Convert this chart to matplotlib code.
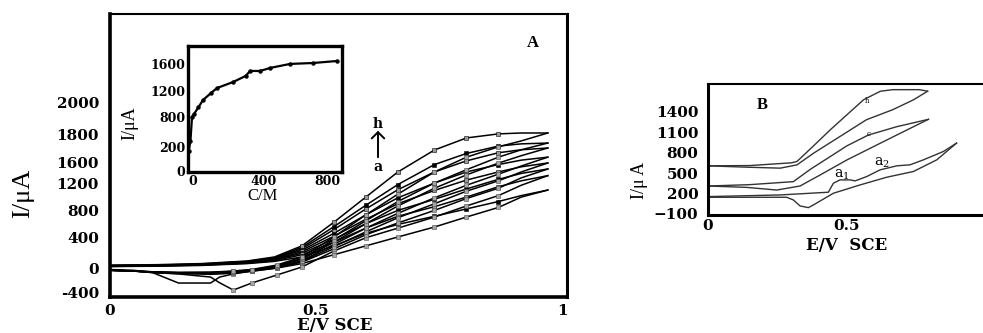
import numpy as np
import matplotlib
matplotlib.use("Agg")
import matplotlib.pyplot as plt

plt.rcParams["font.family"] = "DejaVu Serif"
plt.rcParams["mathtext.fontset"] = "dejavuserif"

W, H = 983, 333

## Panel A : cyclic voltammograms a..h  (E in V, I in uA)
E_fwd = [0, 0.1, 0.2, 0.3, 0.36, 0.42, 0.49, 0.56, 0.63, 0.71, 0.78, 0.85, 0.9, 0.958]
E_rev = [0.958, 0.9, 0.85, 0.78, 0.71, 0.63, 0.56, 0.49, 0.42, 0.365, 0.31, 0.27, 0.24, 0.22, 0.15, 0.09, 0.05, 0]

h_fwd = [40, 45, 60, 95, 150, 300, 620, 961, 1300, 1597, 1760, 1815, 1827, 1827]
g_fwd = [35, 40, 55, 90, 140, 280, 560, 850, 1130, 1400, 1550, 1650, 1680, 1691]
f_fwd = [30, 38, 50, 85, 130, 260, 520, 800, 1060, 1300, 1450, 1560, 1600, 1624]
e_fwd = [30, 35, 48, 80, 125, 240, 470, 720, 950, 1150, 1300, 1400, 1460, 1500]
d_fwd = [28, 32, 45, 75, 115, 220, 430, 660, 870, 1050, 1190, 1300, 1370, 1421]
c_fwd = [25, 30, 42, 70, 110, 200, 390, 600, 780, 930, 1070, 1200, 1280, 1340]
b_fwd = [22, 28, 40, 65, 100, 180, 350, 540, 700, 830, 960, 1100, 1180, 1250]
a_fwd = [20, 25, 35, 60, 90, 150, 300, 470, 590, 700, 800, 900, 980, 1055]

h_rev = [1827, 1720, 1640, 1500, 1300, 1000, 720, 420, 150, 40, -20, -40, -50, -55, -60, -50, -40, -30]
g_rev = [1691, 1600, 1500, 1330, 1150, 900, 640, 380, 130, 30, -25, -45, -55, -60, -60, -50, -40, -30]
f_rev = [1624, 1520, 1420, 1260, 1080, 840, 600, 350, 120, 25, -30, -50, -60, -65, -65, -55, -40, -30]
e_rev = [1500, 1380, 1270, 1120, 950, 740, 540, 320, 100, 15, -35, -55, -65, -70, -70, -55, -40, -30]
d_rev = [1421, 1300, 1180, 1040, 870, 680, 490, 290, 90, 10, -40, -60, -70, -75, -70, -55, -40, -30]
c_rev = [1340, 1220, 1080, 940, 780, 610, 450, 260, 80, 0, -45, -70, -80, -85, -75, -60, -40, -30]
b_rev = [1250, 1120, 980, 840, 690, 540, 410, 230, 14, -95, -203, -298, -200, -122, -80, -60, -40, -30]
a_rev = [1055, 960, 820, 690, 555, 420, 300, 180, 60, 0, -40, -80, -122, -203, -203, -54, -30, -20]

A_ytick_labels = ["-400", "0", "400", "800", "1200", "1600", "1800", "2000"]
A_ytick_pos = [-325, 0, 419, 785, 1150, 1434, 1800, 2246]   # scanned axis is uneven
A_xtick_labels = ["0", "0.5", "1"]
A_xtick_pos = [0.0, 0.45, 0.99]

## inset : peak current vs concentration
C_ins = [-25, -15, -6, 5, 30, 57, 100, 137, 229, 300, 326, 383, 440, 554, 686, 823]
I_ins = [300, 450, 807, 850, 950, 1061, 1160, 1240, 1330, 1420, 1495, 1495, 1540, 1600, 1614, 1644]
ins_ytick_labels = ["0", "200", "800", "1200", "1600"]
ins_ytick_pos = [0, 360, 800, 1200, 1600]
ins_xtick_labels = ["0", "400", "800"]
ins_xtick_pos = [0, 400, 770]

## Panel B
Bh_E_fwd = [0, 0.15, 0.3, 0.32, 0.38, 0.44, 0.5, 0.56, 0.62, 0.665, 0.76, 0.79]
Bh_I_fwd = [606, 610, 650, 670, 900, 1135, 1356, 1576, 1700, 1723, 1723, 1700]
Bh_E_rev = [0.79, 0.74, 0.665, 0.57, 0.475, 0.38, 0.32, 0.26, 0.14, 0]
Bh_I_rev = [1700, 1576, 1430, 1282, 1037, 792, 620, 572, 586, 606]

Bc_E_fwd = [0, 0.15, 0.307, 0.37, 0.439, 0.5, 0.577, 0.679, 0.793]
Bc_I_fwd = [310, 330, 374, 560, 740, 900, 1058, 1180, 1288]
Bc_E_rev = [0.793, 0.715, 0.619, 0.499, 0.403, 0.331, 0.247, 0.139, 0]
Bc_I_rev = [1288, 1131, 936, 691, 471, 310, 251, 290, 310]

Ba_E_fwd = [0, 0.259, 0.433, 0.451, 0.475, 0.511, 0.529, 0.571, 0.619, 0.679, 0.727, 0.775, 0.847, 0.894]
Ba_I_fwd = [155, 179, 219, 351, 400, 400, 385, 449, 547, 606, 621, 694, 817, 939]
Ba_E_rev = [0.894, 0.823, 0.739, 0.643, 0.547, 0.451, 0.379, 0.361, 0.331, 0.307, 0.283, 0]
Ba_I_rev = [939, 694, 523, 439, 326, 204, 32, -7, 18, 106, 145, 145]

B_ytick = [-100, 200, 500, 800, 1100, 1400]
B_xtick = [0, 0.5]


def box(x0, y0, x1, y1):
    # pixel box (top-left origin) -> figure fraction rect
    return [x0 / W, 1 - y1 / H, (x1 - x0) / W, (y1 - y0) / H]


def px(x, y):
    return x / W, 1 - y / H


fig = plt.figure(figsize=(W / 100, H / 100), dpi=100)

######################################################################
## Panel A
axA = fig.add_axes(box(110, 14, 567, 297))
fwd = [a_fwd, b_fwd, c_fwd, d_fwd, e_fwd, f_fwd, g_fwd, h_fwd]
rev = [a_rev, b_rev, c_rev, d_rev, e_rev, f_rev, g_rev, h_rev]
for i in range(len(fwd)):
    mfc = "black" if i % 2 == 0 else "0.6"
    axA.plot(E_fwd, fwd[i], color="black", lw=1.1, marker="s", ms=2.4,
             mfc=mfc, mec="black", mew=0.4, markevery=slice(5, -2))
    axA.plot(E_rev, rev[i], color="black", lw=1.1, marker="s", ms=2.4,
             mfc="0.65", mec="0.3", mew=0.4, markevery=slice(2, 12))
axA.set_xlim(0, 1.0)
axA.set_ylim(-392, 3437)
axA.set_yticks(A_ytick_pos, A_ytick_labels)
axA.set_xticks(A_xtick_pos, A_xtick_labels)
axA.tick_params(length=0, labelsize=11, pad=8)
axA.tick_params(axis="x", pad=5)
for lbl in axA.get_xticklabels() + axA.get_yticklabels():
    lbl.set_fontweight("bold")
axA.spines["left"].set_linewidth(2.6)
axA.spines["bottom"].set_linewidth(2.6)
axA.spines["right"].set_linewidth(2.2)
axA.spines["top"].set_linewidth(1.5)

axA.text(*px(533, 43), "A", transform=fig.transFigure, ha="center", va="center",
         fontsize=12, family="Liberation Serif", fontweight="bold")
axA.annotate("", xy=px(378, 128), xytext=px(378, 160), xycoords="figure fraction",
             textcoords="figure fraction",
             arrowprops=dict(arrowstyle="->,head_width=0.45,head_length=0.45", lw=1.4, color="black"))
fig.text(*px(378, 124), "h", ha="center", va="center", fontsize=10, fontweight="bold")
fig.text(*px(378, 167), "a", ha="center", va="center", fontsize=10, fontweight="bold")
fig.text(*px(23, 193), "I/μA", rotation=90, ha="center", va="center",
         fontsize=19, family="Liberation Serif")
fig.text(*px(335, 325), "E/V SCE", ha="center", va="center", fontsize=12, fontweight="bold")

######################################################################
## inset
axI = fig.add_axes(box(188, 46, 342, 172))
axI.plot(C_ins, I_ins, color="black", lw=1.6, marker="o", ms=2.2)
axI.set_xlim(-29, 851)
axI.set_ylim(-15, 1868)
axI.set_yticks(ins_ytick_pos, ins_ytick_labels)
axI.set_xticks(ins_xtick_pos, ins_xtick_labels)
axI.tick_params(length=0, labelsize=9, pad=2)
for lbl in axI.get_xticklabels() + axI.get_yticklabels():
    lbl.set_fontweight("bold")
for s in axI.spines.values():
    s.set_linewidth(2.4)
fig.text(*px(130, 123), "I/μA", rotation=90, ha="center", va="center",
         fontsize=13, family="Liberation Serif")
fig.text(*px(263, 196), "C/M", ha="center", va="center", fontsize=12, family="Liberation Serif")

######################################################################
## Panel B
axB = fig.add_axes(box(708, 84, 986, 215))
for Ef, If, Er, Ir in [(Bh_E_fwd, Bh_I_fwd, Bh_E_rev, Bh_I_rev),
                       (Bc_E_fwd, Bc_I_fwd, Bc_E_rev, Bc_I_rev),
                       (Ba_E_fwd, Ba_I_fwd, Ba_E_rev, Ba_I_rev)]:
    axB.plot(Ef, If, color="0.2", lw=1.0)
    axB.plot(Er, Ir, color="0.2", lw=1.0)
axB.set_xlim(0, 1.0)
axB.set_ylim(-115, 1806)
axB.set_yticks(B_ytick)
axB.set_xticks(B_xtick, ["0", "0.5"])
axB.tick_params(length=0, labelsize=11, pad=7)
axB.tick_params(axis="x", pad=3)
for lbl in axB.get_xticklabels() + axB.get_yticklabels():
    lbl.set_fontweight("bold")
axB.spines["right"].set_visible(False)
axB.spines["left"].set_linewidth(2.2)
axB.spines["bottom"].set_linewidth(2.2)
axB.spines["top"].set_linewidth(1.5)
fig.text(*px(762, 105), "B", ha="center", va="center", fontsize=12,
         family="Liberation Serif", fontweight="bold")
fig.text(*px(640, 180), "I/μ A", rotation=90, ha="center", va="center",
         fontsize=13, family="Liberation Serif")
fig.text(*px(847, 245), "E/V  SCE", ha="center", va="center", fontsize=12, fontweight="bold")
fig.text(*px(867, 101), "h", ha="center", va="center", fontsize=5)
fig.text(*px(869, 134), "c", ha="center", va="center", fontsize=5)
fig.text(*px(842, 175), "a$_1$", ha="center", va="center", fontsize=10)
fig.text(*px(882, 163), "a$_2$", ha="center", va="center", fontsize=10)

fig.savefig("out.png", dpi=100)
